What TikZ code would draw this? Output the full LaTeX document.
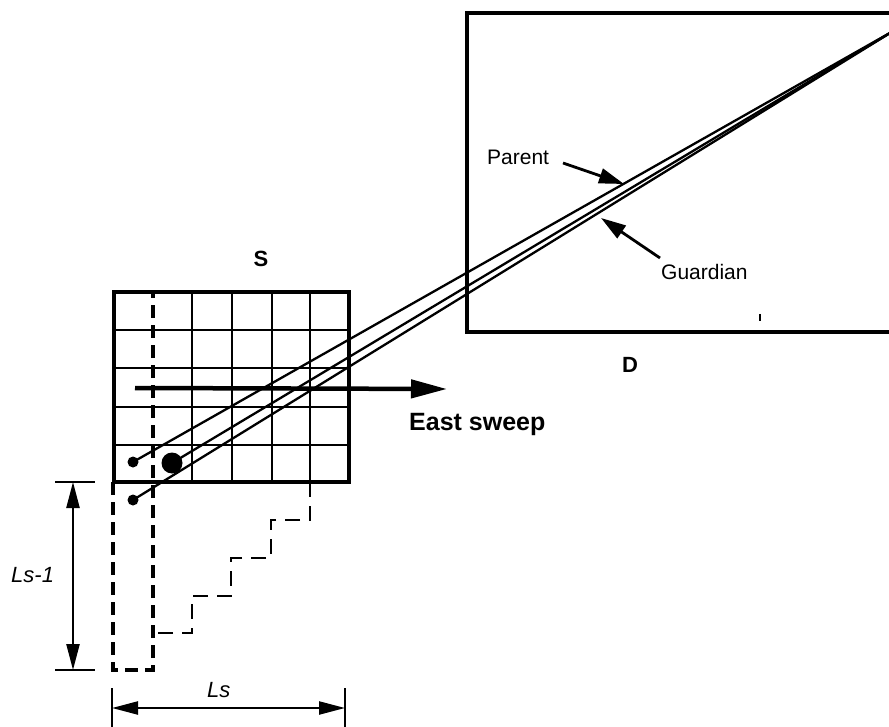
\documentclass[tikz,border=0pt]{standalone}
\usepackage{fontspec}
\setmainfont{Liberation Sans}
\usetikzlibrary{arrows.meta}
\begin{document}
\begin{tikzpicture}[x=1pt,y=-1pt,
  thickline/.style={line width=4.5pt},
  gridline/.style={line width=2.5pt},
  ray/.style={line width=2.3pt},
  bigdash/.style={line width=4pt, dash pattern=on 13pt off 7pt},
  stairdash/.style={line width=2.3pt, dash pattern=on 15pt off 9pt},
  dimline/.style={line width=2.3pt},
  dimarrow/.style={line width=2.3pt, {Triangle[length=26pt,width=13pt]}-{Triangle[length=26pt,width=13pt]}},
  ptr/.style={line width=2.8pt, -{Triangle[length=25pt,width=15pt]}},
  lbl/.style={inner sep=0pt, font=\fontsize{21}{25}\selectfont},
  boldlbl/.style={inner sep=0pt, font=\bfseries\fontsize{22}{26}\selectfont},
  itlbl/.style={inner sep=0pt, font=\itshape\fontsize{22}{26}\selectfont},
  dot/.style={circle, fill, inner sep=0pt, minimum size=#1}
]
\clip (0,0) rectangle (889,727);
\fill[white] (0,0) rectangle (889,727);

% destination rectangle D
\draw[thickline] (467,13) rectangle (905,332);
\draw[line width=1.8pt] (760,314) -- (760,321);

% source grid S
\foreach \x in {192,232,272} \draw[gridline] (\x,292) -- (\x,482);
\draw[gridline] (310,292) -- (310,482);
\foreach \y in {330,368,407,445} \draw[gridline] (114,\y) -- (349,\y);
\draw[thickline] (114,292) rectangle (349,482);

% dashed column and strip
\draw[bigdash] (113,482) -- (113,670) -- (153,670) -- (153,292);

% staircase
\draw[stairdash] (310,482) -- (310,520) -- (271,520) -- (271,558) -- (231,558)
  -- (231,596) -- (192,596) -- (192,633) -- (153,633);

% east sweep arrow
\coordinate (es0) at (135,388);
\coordinate (es1) at (447,389);
\draw[line width=4.5pt, -{Triangle[length=36pt,width=18pt]}] (es0) -- (es1);

% dots and rays
\node[dot=11pt] (p1) at (133,462) {};
\node[dot=21pt] (g) at (172,463) {};
\node[dot=11pt] (p2) at (133,500) {};
\coordinate (far) at (895,30);
\draw[ray] (p1.center) -- (far);
\draw[ray] (g.center) -- (far);
\draw[ray] (p2.center) -- (far);

% labels
\node[boldlbl, anchor=base] (S) at (261,267) {S};
\node[boldlbl, anchor=base] (D) at (630,372) {D};
\node[inner sep=0pt, font=\bfseries\fontsize{25}{29}\selectfont, anchor=base west] (es) at (409,430) {East sweep};
\node[lbl, anchor=base west] (parent) at (487,165) {Parent};
\node[lbl, anchor=base west] (guard) at (661,280) {Guardian};
\coordinate (pa0) at (563,163);
\coordinate (pa1) at (624,184);
\draw[ptr] (pa0) -- (pa1);
\coordinate (ga0) at (660,258);
\coordinate (ga1) at (601,218);
\draw[ptr] (ga0) -- (ga1);

% dimensions
\coordinate (v0) at (73,482);
\coordinate (v1) at (73,670);
\draw[dimline] (55,482) -- (95,482);
\draw[dimline] (55,670) -- (95,670);
\draw[dimarrow] (v0) -- (v1);
\node[itlbl, anchor=base west] (lsm) at (11,582) {Ls-1};

\coordinate (h0) at (112,708);
\coordinate (h1) at (345,708);
\draw[dimline] (112,688) -- (112,727);
\draw[dimline] (345,688) -- (345,727);
\draw[dimarrow] (h0) -- (h1);
\node[itlbl, anchor=base west] (ls) at (207,697) {Ls};
\end{tikzpicture}
\end{document}
